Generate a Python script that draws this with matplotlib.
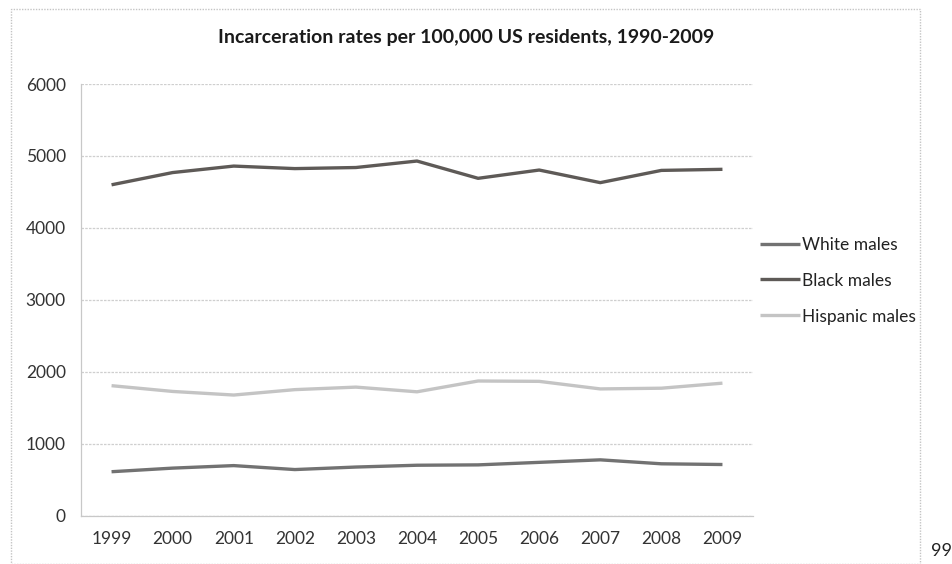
import matplotlib
matplotlib.use("Agg")
import matplotlib.pyplot as plt
from matplotlib.patches import Rectangle

years = ["1999", "2000", "2001", "2002", "2003", "2004", "2005", "2006", "2007", "2008", "2009"]
white_males = [615, 665, 700, 645, 680, 705, 710, 745, 780, 725, 715]
black_males = [4600, 4770, 4860, 4825, 4840, 4930, 4690, 4805, 4630, 4800, 4815]
hispanic_males = [1810, 1730, 1680, 1755, 1790, 1725, 1875, 1870, 1765, 1775, 1845]
series_names = ["White males", "Black males", "Hispanic males"]
title = "Incarceration rates per 100,000 US residents, 1990-2009"
yticks = [0, 1000, 2000, 3000, 4000, 5000, 6000]

plt.rcParams['font.family'] = ['Lato', 'DejaVu Sans']

W, H = 952, 564
fig = plt.figure(figsize=(W/100, H/100), dpi=100)
fig.patch.set_facecolor('white')

# outer chart border
fig.patches.append(Rectangle((11/W, 0), (920-11)/W, (H-9)/H, transform=fig.transFigure,
                             fill=False, edgecolor='#c4c4c4', linewidth=1.0, linestyle=(0, (1, 1))))

l, r, t, b = 81, 753, 84, 516
ax = fig.add_axes([l/W, 1-b/H, (r-l)/W, (b-t)/H])

x = list(range(len(years)))
colors = ['#727272', '#5e5a57', '#c4c4c4']
for vals, name, c in zip([white_males, black_males, hispanic_males], series_names, colors):
    ax.plot(x, vals, color=c, linewidth=2.4, label=name, solid_capstyle='butt')

ax.set_xlim(-0.5, len(years)-0.5)
ax.set_ylim(0, 6000)
ax.set_yticks(yticks)
ax.set_xticks(x)
ax.set_xticklabels(years)
ax.tick_params(axis='both', length=0, labelsize=12.5, colors='#333333')
ax.tick_params(axis='y', pad=11)
ax.tick_params(axis='x', pad=11)
ax.grid(axis='y', color='#cfcfcf', linewidth=0.9, linestyle=(0, (2, 1)))
ax.set_axisbelow(True)
for s in ['top', 'right']:
    ax.spines[s].set_visible(False)
for s in ['left', 'bottom']:
    ax.spines[s].set_color('#c8c8c8')
    ax.spines[s].set_linewidth(0.9)

fig.text(466/W, 1-38/H, title, ha='center', va='center', fontsize=14, fontweight='bold', color='#1a1a1a')

leg = ax.legend(loc='center left', bbox_to_anchor=(1.0, 0.545), frameon=False, fontsize=12.5,
                handlelength=2.3, handletextpad=0.15, labelspacing=1.15, borderaxespad=0.0)
for txt in leg.get_texts():
    txt.set_color('#222222')

fig.text(942/W, 1-551/H, "99", ha='center', va='center', fontsize=13, color='#222222')

fig.savefig("out.png", dpi=100)
